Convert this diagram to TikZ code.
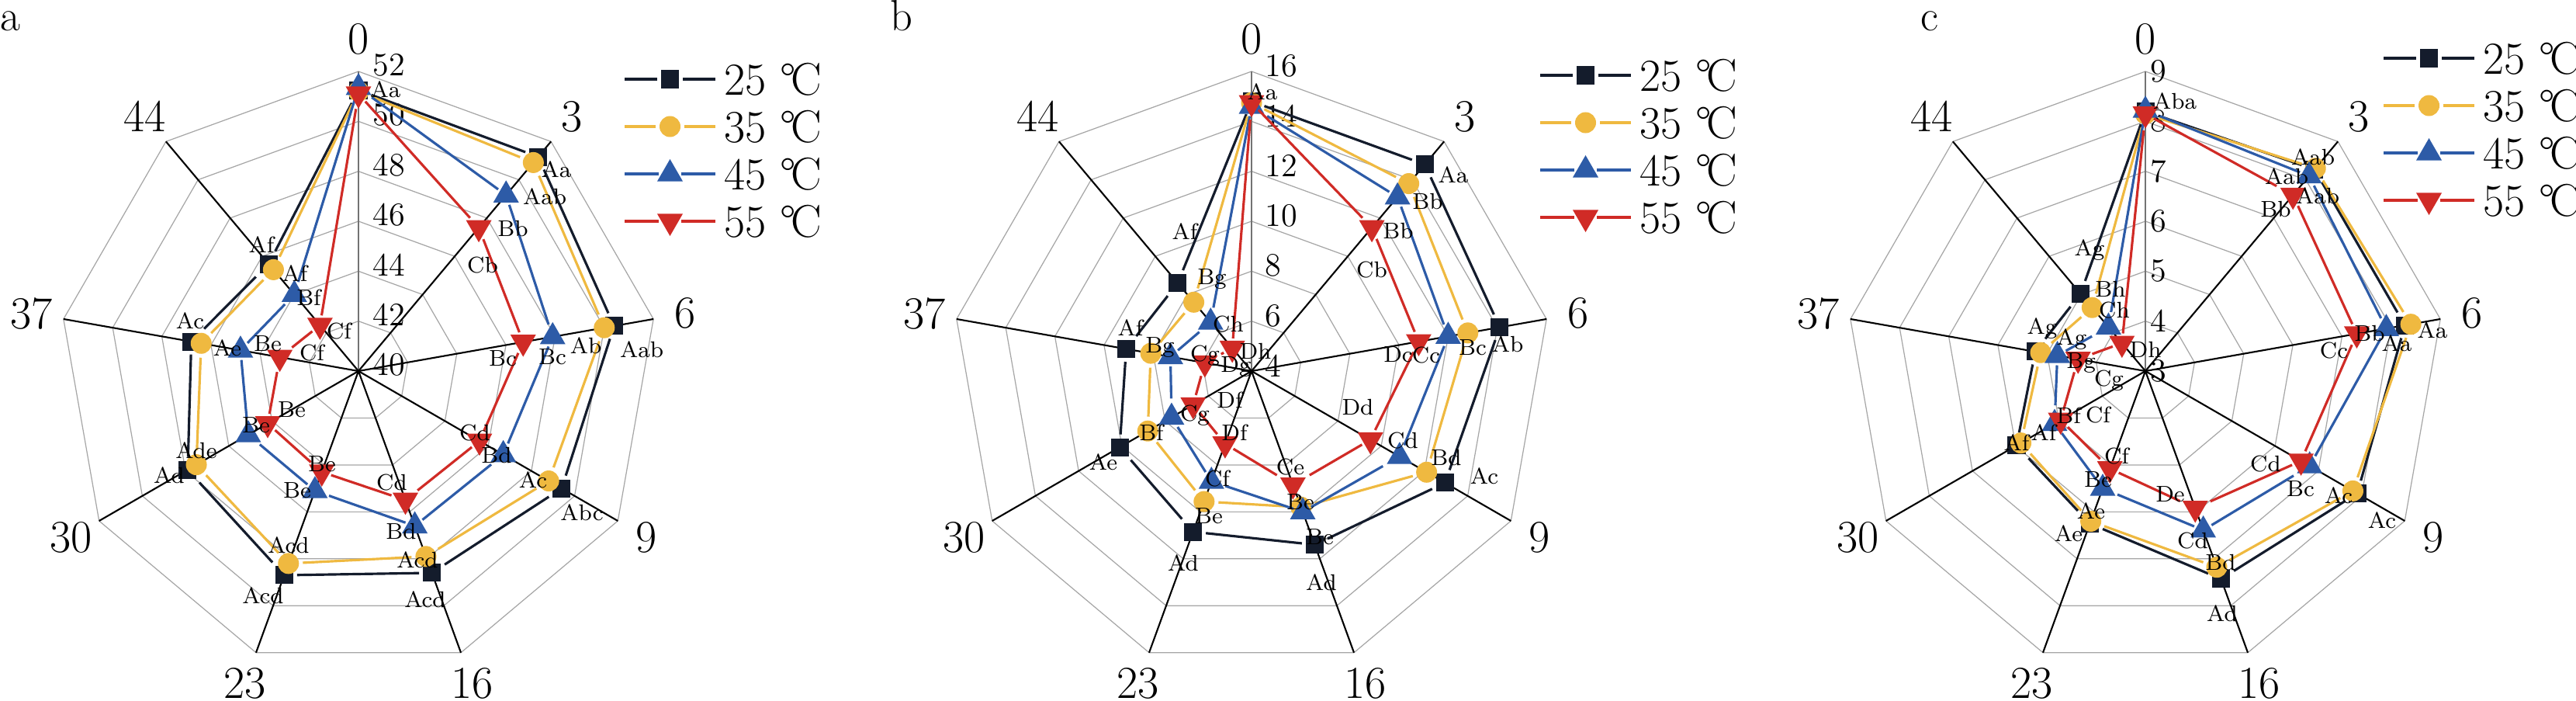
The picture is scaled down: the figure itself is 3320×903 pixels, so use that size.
\documentclass[tikz,border=0pt]{standalone}
\usepackage{tikz}
\usetikzlibrary{shapes.geometric}
\definecolor{k25}{HTML}{141C2C}
\definecolor{k35}{HTML}{EFB940}
\definecolor{k45}{HTML}{2D5BA7}
\definecolor{k55}{HTML}{D02B26}
\tikzset{
  ring/.style={draw=black!35, line width=0.35pt},
  spoke/.style={draw=black, line width=0.6pt},
  vspoke/.style={draw=black!55, line width=0.4pt},
  pt25/.style={rectangle, fill=k25, minimum size=0.23cm, inner sep=0pt, outer sep=0.05cm},
  pt35/.style={circle, fill=k35, minimum size=0.27cm, inner sep=0pt, outer sep=0.05cm},
  pt45/.style={regular polygon, regular polygon sides=3, fill=k45, minimum size=0.38cm, inner sep=0pt, outer sep=0.03cm},
  pt55/.style={regular polygon, regular polygon sides=3, shape border rotate=180, fill=k55, minimum size=0.38cm, inner sep=0pt, outer sep=0.03cm},
  ln25/.style={draw=k25, line width=0.9pt},
  ln35/.style={draw=k35, line width=0.9pt},
  ln45/.style={draw=k45, line width=0.9pt},
  ln55/.style={draw=k55, line width=0.9pt},
  lbl/.style={font=\fontsize{8.3}{9}\selectfont, inner sep=0pt},
  ticklbl/.style={font=\fontsize{12}{13}\selectfont, inner sep=0pt, anchor=west},
  axlbl/.style={font=\fontsize{16.8}{18}\selectfont, inner sep=0pt},
  legtxt/.style={font=\fontsize{16.8}{18}\selectfont, inner sep=0pt, anchor=west},
  panel/.style={font=\fontsize{16}{18}\selectfont, inner sep=0pt, anchor=base west}
}
\begin{document}
\begin{tikzpicture}[x=0.01cm, y=-0.01cm]
\useasboundingbox (0,0) rectangle (3320,903);

\begin{scope}[shift={(462,478)}]
\coordinate (oa) at (0,0);
\foreach \k in {1,...,6}
  \draw[ring] (-90:{64.333*\k}) \foreach \t in {-50,-10,...,230} {-- (\t:{64.333*\k})} -- cycle;
\draw[vspoke] (oa) -- (-90:386);
\foreach \t in {-50,-10,...,230} {
  \coordinate (ea\t) at (\t:386);
  \draw[spoke] (oa) -- (ea\t);
}
\foreach \v [count=\k from 0] in {40,42,...,52}
  \node[ticklbl] (ta\k) at (18,{-64.333*\k-8}) {\v};
\foreach \t/\s in {-90/0,-50/3,-10/6,30/9,70/16,110/23,150/30,190/37,230/44}
  \node[axlbl] (xa\s) at (\t:428) {\s};
\foreach \s/\vals in {25/{51.25,51.2,50.4,49.4,48.6,48.7,47.9,46.8,45.6},
                      35/{51.2,50.9,50.0,48.8,47.9,48.2,47.5,46.4,45.3},
                      45/{51.35,49.2,47.9,46.7,46.6,45.1,45.1,44.8,44.0},
                      55/{51.1,47.5,46.7,45.6,45.5,44.3,44.2,43.2,42.4}} {
  \foreach \v [count=\i] in \vals
    \node[pt\s] (a\s-\i) at ({-130+40*\i}:{386*(\v-40)/12}) {};
  \draw[ln\s] (a\s-1) -- (a\s-2) -- (a\s-3) -- (a\s-4) -- (a\s-5)
    -- (a\s-6) -- (a\s-7) -- (a\s-8) -- (a\s-9) -- (a\s-1);
}
\end{scope}

\begin{scope}[shift={(1613,478)}]
\coordinate (ob) at (0,0);
\foreach \k in {1,...,6}
  \draw[ring] (-90:{64.333*\k}) \foreach \t in {-50,-10,...,230} {-- (\t:{64.333*\k})} -- cycle;
\draw[vspoke] (ob) -- (-90:386);
\foreach \t in {-50,-10,...,230} {
  \coordinate (eb\t) at (\t:386);
  \draw[spoke] (ob) -- (eb\t);
}
\foreach \v [count=\k from 0] in {4,6,...,16}
  \node[ticklbl] (tb\k) at (17,{-64.333*\k-7}) {\v};
\foreach \t/\s in {-90/0,-50/3,-10/6,30/9,70/16,110/23,150/30,190/37,230/44}
  \node[axlbl] (xb\s) at (\t:428) {\s};
\foreach \s/\vals in {25/{14.8,14.8,14.1,12.95,11.4,10.85,10.1,9.1,8.6},
                      35/{14.75,13.8,12.8,12.1,9.8,9.56,8.8,8.1,7.6},
                      45/{14.6,13.1,12.0,10.85,10.0,8.7,7.7,7.3,6.55},
                      55/{14.75,11.5,10.8,9.5,8.85,7.1,6.7,5.9,5.2}} {
  \foreach \v [count=\i] in \vals
    \node[pt\s] (b\s-\i) at ({-130+40*\i}:{386*(\v-4)/12}) {};
  \draw[ln\s] (b\s-1) -- (b\s-2) -- (b\s-3) -- (b\s-4) -- (b\s-5)
    -- (b\s-6) -- (b\s-7) -- (b\s-8) -- (b\s-9) -- (b\s-1);
}
\end{scope}

\begin{scope}[shift={(2765,478)}]
\coordinate (oc) at (0,0);
\foreach \k in {1,...,6}
  \draw[ring] (-90:{64.333*\k}) \foreach \t in {-50,-10,...,230} {-- (\t:{64.333*\k})} -- cycle;
\draw[vspoke] (oc) -- (-90:386);
\foreach \t in {-50,-10,...,230} {
  \coordinate (ec\t) at (\t:386);
  \draw[spoke] (oc) -- (ec\t);
}
\foreach \v [count=\k from 0] in {3,...,9}
  \node[ticklbl] (tc\k) at (6,{-64.333*\k}) {\v};
\foreach \t/\s in {-90/0,-50/3,-10/6,30/9,70/16,110/23,150/30,190/37,230/44}
  \node[axlbl] (xc\s) at (\t:428) {\s};
\foreach \s/\vals in {25/{8.2,8.27,8.28,7.9,7.43,6.25,5.98,5.24,5.02},
                      35/{8.15,8.3,8.4,7.8,7.18,6.2,5.88,5.13,4.66},
                      45/{8.22,8.1,7.9,6.8,6.39,5.5,5.1,4.79,4.15},
                      55/{8.15,7.6,7.3,6.6,5.92,5.08,4.96,4.37,3.73}} {
  \foreach \v [count=\i] in \vals
    \node[pt\s] (c\s-\i) at ({-130+40*\i}:{386*(\v-3)/6}) {};
  \draw[ln\s] (c\s-1) -- (c\s-2) -- (c\s-3) -- (c\s-4) -- (c\s-5)
    -- (c\s-6) -- (c\s-7) -- (c\s-8) -- (c\s-9) -- (c\s-1);
}
\end{scope}

\foreach \x/\y/\t [count=\n] in {497/115/Aa,
  717/218/Aa, 702/253/Aab, 661/295/Bb, 622/342/Cb,
  827/450/Aab, 755/445/Ab, 712/460/Bc, 648/462/Bc,
  750/660/Abc, 687/618/Ac, 640/587/Bd, 612/558/Cd,
  548/772/Acd, 538/721/Acd, 517/685/Bd, 505/622/Cd,
  339/767/Acd, 372/702/Acd, 383/632/Be, 415/598/Be,
  218/612/Ad, 253/580/Ade, 330/548/Be, 376/528/Be,
  245/413/Ac, 293/448/Ae, 345/443/Be, 402/455/Cf,
  337/315/Af, 380/352/Af, 398/383/Bf, 437/427/Cf}
  \node[lbl] (na\n) at (\x,\y) {\t};

\foreach \x/\y/\t [count=\n] in {1627/118/Aa,
  1873/225/Aa, 1840/260/Bb, 1802/298/Bb, 1768/348/Cb,
  1943/443/Ab, 1898/448/Bc, 1838/458/Cc, 1802/457/Dc,
  1913/613/Ac, 1864/590/Bd, 1808/568/Cd, 1750/525/Dd,
  1703/750/Ad, 1701/692/Be, 1676/647/Be, 1663/602/Ce,
  1525/725/Ad, 1558/665/Be, 1569/617/Cf, 1591/557/Df,
  1422/595/Ae, 1484/557/Bf, 1540/535/Cg, 1585/515/Df,
  1457/422/Af, 1495/448/Bg, 1553/458/Cg, 1593/473/Dg,
  1527/298/Af, 1562/360/Bg, 1583/418/Ch, 1618/452/Dh}
  \node[lbl] (nb\n) at (\x,\y) {\t};

\foreach \x/\y/\t [count=\n] in {2803/130/Aba,
  2981/202/Aab, 2947/227/Aab, 2987/252/Aab, 2933/270/Bb,
  3135/425/Aa, 3089/442/Aa, 3054/430/Bb, 3008/452/Cc,
  3070/670/Ac, 3014/638/Ac, 2965/630/Bc, 2920/598/Cd,
  2864/790/Ad, 2862/725/Bd, 2826/697/Cd, 2797/637/De,
  2666/687/Ae, 2695/658/Ae, 2704/618/Be, 2728/588/Cf,
  2599/570/Af, 2634/557/Af, 2666/535/Bf, 2704/535/Cf,
  2632/423/Ag, 2670/437/Ag, 2682/468/Bg, 2718/490/Cg,
  2693/322/Ag, 2720/372/Bh, 2725/400/Ch, 2765/450/Dh}
  \node[lbl] (nc\n) at (\x,\y) {\t};

\foreach \p/\lx/\ly in {a/805/102, b/1985/97, c/3072/75}
  \foreach \s [count=\n] in {25,35,45,55} {
    \coordinate (lg\p-l\n) at (\lx,{\ly+61*(\n-1)});
    \coordinate (lg\p-r\n) at ({\lx+117},{\ly+61*(\n-1)});
    \node[pt\s] (lg\p-m\n) at ({\lx+58.5},{\ly+61*(\n-1)}) {};
    \draw[ln\s] (lg\p-l\n) -- (lg\p-m\n) -- (lg\p-r\n);
    \node[legtxt] (lg\p-t\n) at ({\lx+128},{\ly+61*(\n-1)}) {\s\ °\kern-0.12em C};
  }

\node[panel] (pa) at (0,40) {a};
\node[panel] (pb) at (1147,40) {b};
\node[panel] (pc) at (2475,40) {c};
\end{tikzpicture}
\end{document}
